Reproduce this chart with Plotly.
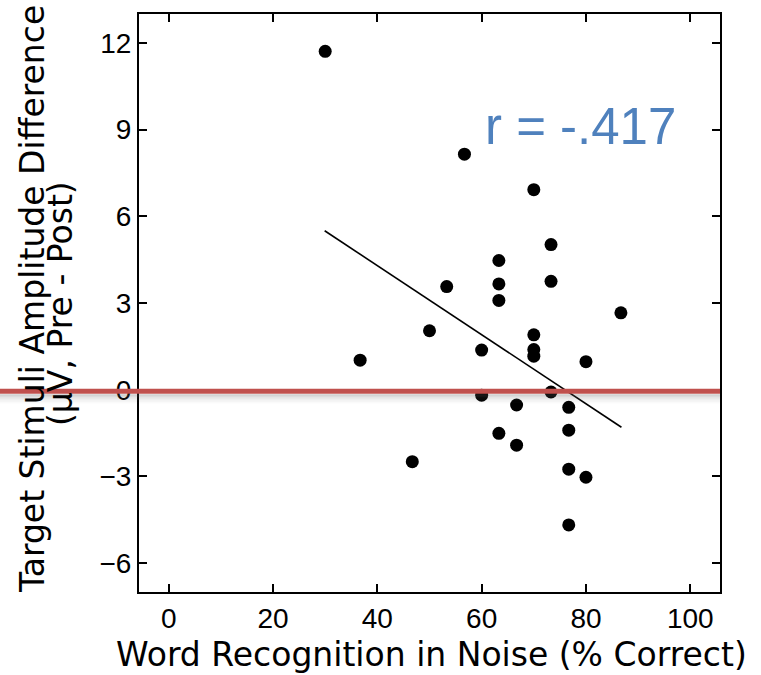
import plotly.graph_objects as go

# Data
word_recog = [30.0, 56.7, 70.0, 73.3, 63.3, 63.3, 53.3, 63.3, 73.3, 86.7,
              50.0, 70.0, 70.0, 70.0, 60.0, 36.7, 80.0, 73.3, 60.0, 66.7,
              76.7, 76.7, 63.3, 66.7, 46.7, 76.7, 80.0, 76.7]
amp_diff = [11.71, 8.15, 6.92, 5.02, 4.47, 3.66, 3.57, 3.09, 3.75, 2.66,
            2.04, 1.90, 1.39, 1.16, 1.37, 1.02, 0.97, -0.08, -0.19, -0.53,
            -0.61, -1.40, -1.51, -1.92, -2.49, -2.75, -3.03, -4.68]
fit_x = [29.9, 86.8]
fit_y = [5.50, -1.30]
x_ticks = [0, 20, 40, 60, 80, 100]
y_ticks = [-6, -3, 0, 3, 6, 9, 12]
r_label = "r = -.417"

W, H = 761, 675
ML, MR, MT, MB = 139, 41, 12, 83
PW = W - ML - MR
PH = H - MT - MB

def px_x(p):
    return (p - ML) / PW

def px_y(p):
    return (H - MB - p) / PH

fig = go.Figure()
fig.add_trace(go.Scatter(x=fit_x, y=fit_y, mode="lines",
                         line=dict(color="black", width=1.6), showlegend=False,
                         hoverinfo="skip"))
fig.add_trace(go.Scatter(x=word_recog, y=amp_diff, mode="markers",
                         marker=dict(color="black", size=13, line=dict(width=0)),
                         showlegend=False))

axis_common = dict(showgrid=False, zeroline=False, showline=True, linecolor="black",
                   linewidth=2, mirror="ticks", ticks="inside", ticklen=8, tickwidth=2,
                   tickcolor="black",
                   tickfont=dict(family="Liberation Sans", size=28, color="black"))

fig.update_xaxes(range=[-5.7, 105.7], tickvals=x_ticks, ticklabelstandoff=0,
                 **axis_common)
fig.update_yaxes(range=[-7, 13], tickvals=y_ticks, ticklabelstandoff=0,
                 **axis_common)

title_font = dict(family="DejaVu Sans", size=33, color="black")
annotations = [
    dict(text="Word Recognition in Noise (% Correct)", x=px_x(431), y=px_y(655),
         xref="paper", yref="paper", showarrow=False, xanchor="center", yanchor="middle",
         font=title_font),
    dict(text="Target Stimuli Amplitude Difference", x=px_x(32), y=px_y(298),
         xref="paper", yref="paper", showarrow=False, textangle=-90,
         xanchor="center", yanchor="middle", font=title_font),
    dict(text="(μV, Pre - Post)", x=px_x(60), y=px_y(302),
         xref="paper", yref="paper", showarrow=False, textangle=-90,
         xanchor="center", yanchor="middle", font=title_font),
    dict(text=r_label, x=px_x(580), y=px_y(125), xref="paper", yref="paper",
         showarrow=False, xanchor="center", yanchor="middle",
         font=dict(family="Liberation Sans", size=51, color="#4F81BD")),
]

shapes = []
# soft shadow under the red line
for i, op in enumerate([0.30, 0.22, 0.15, 0.10, 0.06, 0.03]):
    y0 = 393.5 + i * 1.5
    shapes.append(dict(type="rect", xref="paper", yref="paper",
                       x0=px_x(0), x1=px_x(720), y0=px_y(y0), y1=px_y(y0 + 1.5),
                       fillcolor="rgba(90,90,90,%.2f)" % op, line=dict(width=0),
                       layer="above"))
shapes.append(dict(type="line", xref="paper", yref="paper",
                   x0=px_x(0), x1=px_x(720), y0=px_y(390.5), y1=px_y(390.5),
                   line=dict(color="#C0504D", width=5), layer="above"))

fig.update_layout(width=W, height=H, margin=dict(l=ML, r=MR, t=MT, b=MB),
                  paper_bgcolor="white", plot_bgcolor="white",
                  annotations=annotations, shapes=shapes)

fig.write_html("out.html", config={"displayModeBar": False},
               post_script="document.body.style.margin='0';document.body.style.padding='0';")
